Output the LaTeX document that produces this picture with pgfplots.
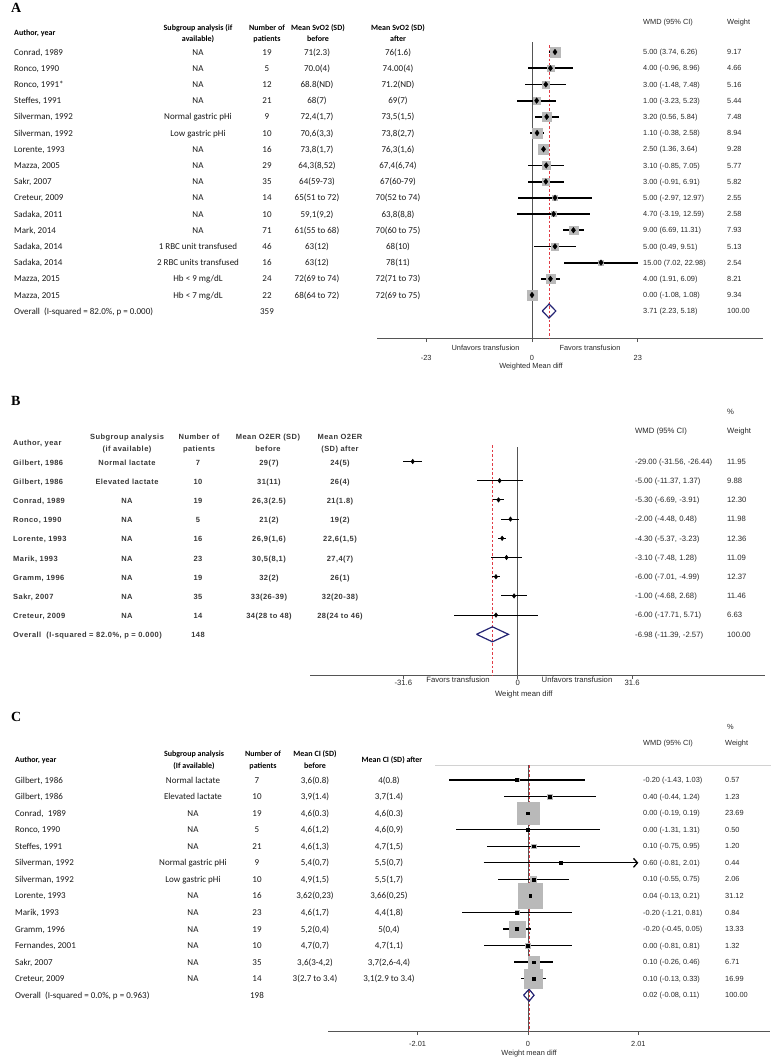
\documentclass[border=0pt]{standalone}
\usepackage{pgfplots}
\pgfplotsset{compat=1.18}
\usepackage{pgfplotstable}
\usepackage{fontspec}
\usetikzlibrary{arrows.meta}
\setmainfont{Liberation Sans}
\newfontfamily\calfont{Carlito}
\newfontfamily\ari{Liberation Sans}
\newfontfamily\arisp[LetterSpace=6]{Liberation Sans}
\newfontfamily\tms{Liberation Serif}
\definecolor{boxgray}{RGB}{185,185,185}
\definecolor{navyd}{RGB}{35,35,115}
\definecolor{refred}{RGB}{225,60,70}
\definecolor{axgray}{RGB}{85,85,85}
\definecolor{txt}{RGB}{40,40,40}

\pgfplotstableread{
y est lo hi w
-52.0 5.00 3.74 6.26 9.17
-68.2 4.00 -0.96 8.96 4.66
-84.4 3.00 -1.48 7.48 5.16
-100.6 1.00 -3.23 5.23 5.44
-116.8 3.20 0.56 5.84 7.48
-133.0 1.10 -0.38 2.58 8.94
-149.2 2.50 1.36 3.64 9.28
-165.4 3.10 -0.85 7.05 5.77
-181.6 3.00 -0.91 6.91 5.82
-197.8 5.00 -2.97 12.97 2.55
-214.0 4.70 -3.19 12.59 2.58
-230.2 9.00 6.69 11.31 7.93
-246.4 5.00 0.49 9.51 5.13
-262.6 15.00 7.02 22.98 2.54
-278.8 4.00 1.91 6.09 8.21
-295.0 0.00 -1.08 1.08 9.34
}\dataA

\pgfplotstableread{
y est lo hi w
-461.5 -29.00 -31.56 -26.44 11.95
-480.7 -5.00 -11.37 1.37 9.88
-499.9 -5.30 -6.69 -3.91 12.30
-519.1 -2.00 -4.48 0.48 11.98
-538.3 -4.30 -5.37 -3.23 12.36
-557.5 -3.10 -7.48 1.28 11.09
-576.7 -6.00 -7.01 -4.99 12.37
-595.9 -1.00 -4.68 2.68 11.46
-615.1 -6.00 -17.71 5.71 6.63
}\dataB

\pgfplotstableread{
y est lo hi w
-780.0 -0.20 -1.43 1.03 0.57
-796.6 0.40 -0.44 1.24 1.23
-813.1 0.00 -0.19 0.19 23.69
-829.7 0.00 -1.31 1.31 0.50
-846.2 0.10 -0.75 0.95 1.20
-879.3 0.10 -0.55 0.75 2.06
-895.9 0.04 -0.13 0.21 31.12
-912.4 -0.20 -1.21 0.81 0.84
-929.0 -0.20 -0.45 0.05 13.33
-945.5 0.00 -0.81 0.81 1.32
-962.1 0.10 -0.26 0.46 6.71
-978.6 0.10 -0.13 0.33 16.99
}\dataC

\pgfplotsset{
  forest/.style={scale only axis, anchor=south west, clip=false,
    axis x line*=bottom, axis y line=none, ytick=\empty,
    x axis line style={-, axgray, line width=0.8bp},
    tick align=outside, major tick length=4bp,
    every tick/.style={axgray, line width=0.8bp},
    xticklabel style={font=\ari\fontsize{7.4bp}{8bp}\selectfont, text=txt, anchor=center},
    xlabel style={font=\ari\fontsize{7.4bp}{8bp}\selectfont, text=txt, anchor=center},
  },
  boxes/.style={scatter, only marks, mark=square*,
    scatter/use mapped color={draw=boxgray, fill=boxgray},
    mark options={draw=boxgray, fill=boxgray},
    visualization depends on={#1*sqrt(\thisrow{w}) \as \msz},
    scatter/@pre marker code/.append style={/tikz/mark size=\msz}},
  ci/.style={black, only marks, error bars/x dir=both, error bars/x explicit,
    error bars/error mark=none, error bars/error bar style={line width=#1, black}},
  refline/.style={draw=refred, color=refred, line width=0.9bp, dash pattern=on 2.5bp off 2bp},
}

\tikzset{
  L/.style={anchor=base west, inner sep=0pt},
  M/.style={anchor=base, inner sep=0pt},
  ahd/.style={font=\calfont\bfseries\fontsize{8bp}{9bp}\selectfont, yshift=-2.7bp, text=black},
  atx/.style={font=\calfont\fontsize{9bp}{10bp}\selectfont, yshift=-3bp, text=black!90},
  st/.style={font=\ari\fontsize{7.4bp}{8bp}\selectfont, yshift=-2.6bp, text=txt},
  stb/.style={font=\ari\fontsize{7.7bp}{8bp}\selectfont, yshift=-2.7bp, text=txt},
  btx/.style={font=\arisp\bfseries\fontsize{7.5bp}{8bp}\selectfont, yshift=-2.7bp, text=black!78},
  plab/.style={font=\tms\bfseries\fontsize{14bp}{15bp}\selectfont, anchor=base west, inner sep=0pt},
}

\newcommand\rowA[6]{\node[atx,L] at (14,-#1) {#2};\node[atx,M] at (198,-#1) {#3};\node[atx,M] at (267,-#1) {#4};\node[atx,M] at (317,-#1) {#5};\node[atx,M] at (398,-#1) {#6};}
\newcommand\rowB[6]{\node[btx,L] at (13,-#1) {#2};\node[btx,M] at (127,-#1) {#3};\node[btx,M] at (198,-#1) {#4};\node[btx,M] at (269,-#1) {#5};\node[btx,M] at (340,-#1) {#6};}
\newcommand\rowC[6]{\node[atx,L] at (15,-#1) {#2};\node[atx,M] at (193,-#1) {#3};\node[atx,M] at (257,-#1) {#4};\node[atx,M] at (315,-#1) {#5};\node[atx,M] at (389,-#1) {#6};}
\newcommand\rtA[3]{\node[st,L] at (643,-#1) {#2};\node[st,L] at (727,-#1) {#3};}
\newcommand\rtB[3]{\node[stb,L] at (635,-#1) {#2};\node[stb,L] at (727,-#1) {#3};}
\newcommand\rtC[3]{\node[st,L] at (643,-#1) {#2};\node[st,L] at (725,-#1) {#3};}

\begin{document}
\begin{tikzpicture}
\useasboundingbox (0,0) rectangle (771bp,-1060bp);

% ---------------- Panel A ----------------
\begin{axis}[forest, at={(377bp,-338bp)}, width=386bp, height=308bp,
  xmin=-33.696, xmax=50.217, ymin=-338, ymax=-30,
  xtick={-23,0,23}, xticklabels={-23,0,23},
  xticklabel style={yshift=-16bp},
  xlabel={Weighted Mean diff},
  xlabel style={at={(axis description cs:0.399,-0.0942)}}]
\addplot[axgray, line width=1bp] coordinates {(0,-42) (0,-338)};
\addplot[refline] coordinates {(3.71,-45) (3.71,-338)};
\addplot[boxes=1.6] table[x=est, y=y] {\dataA};
\addplot[ci=1.8bp, mark=diamond*, mark size=2.8bp] table[x=est, y=y, x error plus expr=\thisrow{hi}-\thisrow{est}, x error minus expr=\thisrow{est}-\thisrow{lo}] {\dataA};
\addplot[navyd, line width=1.2bp, line join=miter] coordinates {(2.23,-311) (3.71,-304) (5.18,-311) (3.71,-318) (2.23,-311)};
\end{axis}

% ---------------- Panel B ----------------
\begin{axis}[forest, at={(310bp,-675bp)}, width=455bp, height=235bp,
  xmin=-57.376, xmax=68.315, ymin=-675, ymax=-440,
  xtick={-31.6,0,31.6}, xticklabels={-31.6,0,31.6},
  xticklabel style={yshift=-4.3bp, font=\ari\fontsize{7.7bp}{8bp}\selectfont},
  xlabel={Weight mean diff},
  xlabel style={at={(axis description cs:0.470,-0.0851)}, font=\ari\fontsize{7.7bp}{8bp}\selectfont}]
\addplot[axgray, line width=1bp] coordinates {(0,-447) (0,-675)};
\addplot[refline] coordinates {(-6.98,-445) (-6.98,-675)};
\addplot[ci=1bp, mark=diamond*, mark size=2.3bp] table[x=est, y=y, x error plus expr=\thisrow{hi}-\thisrow{est}, x error minus expr=\thisrow{est}-\thisrow{lo}] {\dataB};
\addplot[navyd, line width=1.2bp, line join=miter] coordinates {(-11.39,-634.3) (-6.98,-626.8) (-2.57,-634.3) (-6.98,-641.8) (-11.39,-634.3)};
\end{axis}

% ---------------- Panel C ----------------
\begin{axis}[forest, at={(328bp,-1031bp)}, width=442bp, height=271bp,
  xmin=-3.643, xmax=4.408, ymin=-1031, ymax=-760,
  xtick={-2.01,0,2.01}, xticklabels={-2.01,0,2.01},
  xticklabel style={yshift=-9bp},
  xlabel={Weight mean diff},
  xlabel style={at={(axis description cs:0.455,-0.0849)}}]
\addplot[gray!35, line width=0.8bp] coordinates {(-1.694,-765) (4.426,-765)};
\addplot[axgray, line width=1bp] coordinates {(0,-765) (0,-1031)};
\addplot[refline] coordinates {(0.02,-765) (0.02,-1031)};
\addplot[boxes=2.23] table[x=est, y=y] {\dataC};
\addplot[ci=1.3bp, mark=square*, mark size=1.4bp] table[x=est, y=y, x error plus expr=\thisrow{hi}-\thisrow{est}, x error minus expr=\thisrow{est}-\thisrow{lo}] {\dataC};
\addplot[black, line width=1.3bp, -{Straight Barb[length=4bp,width=9bp]}] coordinates {(-0.81,-862.8) (2.01,-862.8)};
\addplot[black, only marks, mark=square*, mark size=1.4bp] coordinates {(0.60,-862.8)};
\addplot[navyd, line width=1.2bp, line join=miter] coordinates {(-0.08,-995.2) (0.02,-989.2) (0.11,-995.2) (0.02,-1001.2) (-0.08,-995.2)};
\end{axis}

\begin{scope}[x=1bp,y=1bp]
% ---- Panel A text ----
\node[plab] at (11,-12) {A};
\node[ahd,L] at (14,-32.3) {Author, year};
\node[ahd,M] at (198,-27.3) {Subgroup analysis (if};
\node[ahd,M] at (198,-38.5) {available)};
\node[ahd,M] at (267,-27.3) {Number of};
\node[ahd,M] at (267,-38.5) {patients};
\node[ahd,M] at (318,-27.3) {Mean SvO2 (SD)};
\node[ahd,M] at (318,-38.5) {before};
\node[ahd,M] at (398,-27.3) {Mean SvO2 (SD)};
\node[ahd,M] at (398,-38.5) {after};
\node[st,L] at (643,-21.7) {WMD (95\% CI)};
\node[st,L] at (727,-21.7) {Weight};
\rowA{52.0}{Conrad, 1989}{NA}{19}{71(2.3)}{76(1.6)}
\rowA{68.2}{Ronco, 1990}{NA}{5}{70.0(4)}{74.00(4)}
\rowA{84.4}{Ronco, 1991*}{NA}{12}{68.8(ND)}{71.2(ND)}
\rowA{100.6}{Steffes, 1991}{NA}{21}{68(7)}{69(7)}
\rowA{116.8}{Silverman, 1992}{Normal gastric pHi}{9}{72,4(1,7)}{73,5(1,5)}
\rowA{133.0}{Silverman, 1992}{Low gastric pHi}{10}{70,6(3,3)}{73,8(2,7)}
\rowA{149.2}{Lorente, 1993}{NA}{16}{73,8(1,7)}{76,3(1,6)}
\rowA{165.4}{Mazza, 2005}{NA}{29}{64,3(8,52)}{67,4(6,74)}
\rowA{181.6}{Sakr, 2007}{NA}{35}{64(59-73)}{67(60-79)}
\rowA{197.8}{Creteur, 2009}{NA}{14}{65(51 to 72)}{70(52 to 74)}
\rowA{214.0}{Sadaka, 2011}{NA}{10}{59,1(9,2)}{63,8(8,8)}
\rowA{230.2}{Mark, 2014}{NA}{71}{61(55 to 68)}{70(60 to 75)}
\rowA{246.4}{Sadaka, 2014}{1 RBC unit transfused}{46}{63(12)}{68(10)}
\rowA{262.6}{Sadaka, 2014}{2 RBC units transfused}{16}{63(12)}{78(11)}
\rowA{278.8}{Mazza, 2015}{Hb < 9 mg/dL}{24}{72(69 to 74)}{72(71 to 73)}
\rowA{295.0}{Mazza, 2015}{Hb < 7 mg/dL}{22}{68(64 to 72)}{72(69 to 75)}
\node[atx,L] at (14,-311) {Overall\ \ (I-squared = 82.0\%, p = 0.000)};
\node[atx,M] at (267,-311) {359};
\rtA{52.0}{5.00 (3.74, 6.26)}{9.17}
\rtA{68.2}{4.00 (-0.96, 8.96)}{4.66}
\rtA{84.4}{3.00 (-1.48, 7.48)}{5.16}
\rtA{100.6}{1.00 (-3.23, 5.23)}{5.44}
\rtA{116.8}{3.20 (0.56, 5.84)}{7.48}
\rtA{133.0}{1.10 (-0.38, 2.58)}{8.94}
\rtA{149.2}{2.50 (1.36, 3.64)}{9.28}
\rtA{165.4}{3.10 (-0.85, 7.05)}{5.77}
\rtA{181.6}{3.00 (-0.91, 6.91)}{5.82}
\rtA{197.8}{5.00 (-2.97, 12.97)}{2.55}
\rtA{214.0}{4.70 (-3.19, 12.59)}{2.58}
\rtA{230.2}{9.00 (6.69, 11.31)}{7.93}
\rtA{246.4}{5.00 (0.49, 9.51)}{5.13}
\rtA{262.6}{15.00 (7.02, 22.98)}{2.54}
\rtA{278.8}{4.00 (1.91, 6.09)}{8.21}
\rtA{295.0}{0.00 (-1.08, 1.08)}{9.34}
\rtA{311.0}{3.71 (2.23, 5.18)}{100.00}
\node[st,M] at (485.5,-348) {Unfavors transfusion};
\node[st,M] at (590,-348) {Favors transfusion};

% ---- Panel B text ----
\node[plab] at (11,-405) {B};
\node[btx,L] at (13,-442.3) {Author, year};
\node[btx,M] at (127,-436.7) {Subgroup analysis};
\node[btx,M] at (127,-448.3) {(if available)};
\node[btx,M] at (199,-436.7) {Number of};
\node[btx,M] at (199,-448.3) {patients};
\node[btx,M] at (268,-436.7) {Mean O2ER (SD)};
\node[btx,M] at (268,-448.3) {before};
\node[btx,M] at (340,-436.7) {Mean O2ER};
\node[btx,M] at (340,-448.3) {(SD) after};
\node[stb,L] at (727,-411.7) {\%};
\node[stb,L] at (635,-430.7) {WMD (95\% CI)};
\node[stb,L] at (727,-430.7) {Weight};
\rowB{462.3}{Gilbert, 1986}{Normal lactate}{7}{29(7)}{24(5)}
\rowB{481.5}{Gilbert, 1986}{Elevated lactate}{10}{31(11)}{26(4)}
\rowB{500.7}{Conrad, 1989}{NA}{19}{26,3(2.5)}{21(1.8)}
\rowB{519.9}{Ronco, 1990}{NA}{5}{21(2)}{19(2)}
\rowB{539.1}{Lorente, 1993}{NA}{16}{26,9(1,6)}{22,6(1,5)}
\rowB{558.3}{Marik, 1993}{NA}{23}{30,5(8,1)}{27,4(7)}
\rowB{577.5}{Gramm, 1996}{NA}{19}{32(2)}{26(1)}
\rowB{596.7}{Sakr, 2007}{NA}{35}{33(26-39)}{32(20-38)}
\rowB{615.9}{Creteur, 2009}{NA}{14}{34(28 to 48)}{28(24 to 46)}
\node[btx,L] at (13,-635.1) {Overall\ \ (I-squared = 82.0\%, p = 0.000)};
\node[btx,M] at (198,-635.1) {148};
\rtB{461.5}{-29.00 (-31.56, -26.44)}{11.95}
\rtB{480.7}{-5.00 (-11.37, 1.37)}{9.88}
\rtB{499.9}{-5.30 (-6.69, -3.91)}{12.30}
\rtB{519.1}{-2.00 (-4.48, 0.48)}{11.98}
\rtB{538.3}{-4.30 (-5.37, -3.23)}{12.36}
\rtB{557.5}{-3.10 (-7.48, 1.28)}{11.09}
\rtB{576.7}{-6.00 (-7.01, -4.99)}{12.37}
\rtB{595.9}{-1.00 (-4.68, 2.68)}{11.46}
\rtB{615.1}{-6.00 (-17.71, 5.71)}{6.63}
\rtB{634.3}{-6.98 (-11.39, -2.57)}{100.00}
\node[stb,M] at (458,-680) {Favors transfusion};
\node[stb,M] at (577,-680) {Unfavors transfusion};

% ---- Panel C text ----
\node[plab] at (11,-721) {C};
\node[ahd,L] at (15,-760) {Author, year};
\node[ahd,M] at (194,-754) {Subgroup analysis};
\node[ahd,M] at (194,-766) {(If available)};
\node[ahd,M] at (263,-754) {Number of};
\node[ahd,M] at (263,-766) {patients};
\node[ahd,M] at (315,-754) {Mean CI (SD)};
\node[ahd,M] at (315,-766) {before};
\node[ahd,M] at (392,-760) {Mean CI (SD) after};
\node[st,L] at (727,-727.3) {\%};
\node[st,L] at (643,-743.3) {WMD (95\% CI)};
\node[st,L] at (725,-743.3) {Weight};
\rowC{780.0}{Gilbert, 1986}{Normal lactate}{7}{3,6(0.8)}{4(0.8)}
\rowC{796.6}{Gilbert, 1986}{Elevated lactate}{10}{3,9(1.4)}{3,7(1.4)}
\rowC{813.1}{Conrad,\ \ 1989}{NA}{19}{4,6(0.3)}{4,6(0.3)}
\rowC{829.7}{Ronco, 1990}{NA}{5}{4,6(1,2)}{4,6(0,9)}
\rowC{846.2}{Steffes, 1991}{NA}{21}{4,6(1,3)}{4,7(1,5)}
\rowC{862.8}{Silverman, 1992}{Normal gastric pHi}{9}{5,4(0,7)}{5,5(0,7)}
\rowC{879.3}{Silverman, 1992}{Low gastric pHi}{10}{4,9(1,5)}{5,5(1,7)}
\rowC{895.9}{Lorente, 1993}{NA}{16}{3,62(0,23)}{3,66(0,25)}
\rowC{912.4}{Marik, 1993}{NA}{23}{4,6(1,7)}{4,4(1,8)}
\rowC{929.0}{Gramm, 1996}{NA}{19}{5,2(0,4)}{5(0,4)}
\rowC{945.5}{Fernandes, 2001}{NA}{10}{4,7(0,7)}{4,7(1,1)}
\rowC{962.1}{Sakr, 2007}{NA}{35}{3,6(3-4,2)}{3,7(2,6-4,4)}
\rowC{978.6}{Creteur, 2009}{NA}{14}{3(2.7 to 3.4)}{3,1(2.9 to 3.4)}
\node[atx,L] at (15,-995.2) {Overall\ \ (I-squared = 0.0\%, p = 0.963)};
\node[atx,M] at (257,-995.2) {198};
\rtC{780.0}{-0.20 (-1.43, 1.03)}{0.57}
\rtC{796.6}{0.40 (-0.44, 1.24)}{1.23}
\rtC{813.1}{0.00 (-0.19, 0.19)}{23.69}
\rtC{829.7}{0.00 (-1.31, 1.31)}{0.50}
\rtC{846.2}{0.10 (-0.75, 0.95)}{1.20}
\rtC{862.8}{0.60 (-0.81, 2.01)}{0.44}
\rtC{879.3}{0.10 (-0.55, 0.75)}{2.06}
\rtC{895.9}{0.04 (-0.13, 0.21)}{31.12}
\rtC{912.4}{-0.20 (-1.21, 0.81)}{0.84}
\rtC{929.0}{-0.20 (-0.45, 0.05)}{13.33}
\rtC{945.5}{0.00 (-0.81, 0.81)}{1.32}
\rtC{962.1}{0.10 (-0.26, 0.46)}{6.71}
\rtC{978.6}{0.10 (-0.13, 0.33)}{16.99}
\rtC{995.2}{0.02 (-0.08, 0.11)}{100.00}
\end{scope}
\end{tikzpicture}
\end{document}
